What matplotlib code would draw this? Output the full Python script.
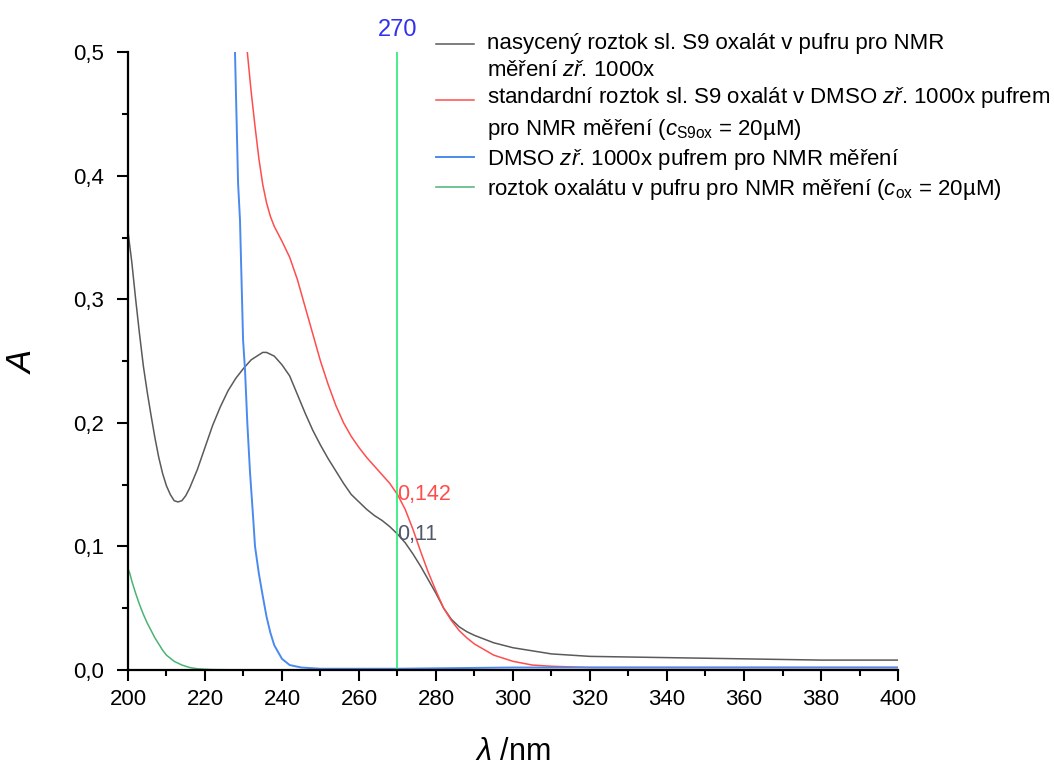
import matplotlib
matplotlib.use("Agg")
import matplotlib.pyplot as plt
from matplotlib.ticker import MultipleLocator, FuncFormatter
from matplotlib.legend_handler import HandlerLine2D

plt.rcParams['font.family'] = ['Liberation Sans', 'DejaVu Sans']
plt.rcParams['mathtext.fontset'] = 'custom'
plt.rcParams['mathtext.rm'] = 'Liberation Sans'
plt.rcParams['mathtext.it'] = 'Liberation Sans:italic'

# nasyceny roztok (gray)
wl_sat = [200, 201, 202, 203, 204, 205, 206, 207, 208, 209, 210, 211, 212, 213, 214, 215, 216, 218,
          220, 222, 224, 226, 228, 230, 232, 234, 235, 236, 238, 240, 242, 244, 246, 248, 250, 252,
          254, 256, 258, 260, 262, 264, 266, 268, 270, 272, 274, 276, 278, 280, 282, 284, 286, 288,
          290, 295, 300, 310, 320, 340, 360, 380, 400]
a_sat = [0.355, 0.330, 0.300, 0.272, 0.246, 0.225, 0.206, 0.188, 0.172, 0.159, 0.149, 0.142, 0.137,
         0.136, 0.137, 0.141, 0.147, 0.162, 0.180, 0.198, 0.213, 0.226, 0.236, 0.244, 0.251, 0.255,
         0.257, 0.257, 0.254, 0.247, 0.238, 0.223, 0.208, 0.194, 0.182, 0.171, 0.161, 0.151, 0.142,
         0.136, 0.130, 0.125, 0.121, 0.116, 0.110, 0.103, 0.094, 0.084, 0.073, 0.062, 0.050, 0.041,
         0.035, 0.031, 0.028, 0.022, 0.018, 0.013, 0.011, 0.010, 0.009, 0.008, 0.008]

# standardni roztok (red)
wl_std = [231, 232, 233, 234, 235, 236, 237, 238, 240, 242, 244, 246, 248, 250, 252, 254, 256, 258,
          260, 262, 264, 266, 268, 270, 272, 274, 276, 278, 280, 282, 284, 286, 288, 290, 295, 300,
          305, 310, 320, 350, 400]
a_std = [0.500, 0.468, 0.440, 0.414, 0.393, 0.378, 0.367, 0.359, 0.347, 0.334, 0.316, 0.294, 0.272,
         0.250, 0.231, 0.214, 0.200, 0.189, 0.180, 0.172, 0.165, 0.158, 0.151, 0.142, 0.130, 0.114,
         0.096, 0.079, 0.064, 0.050, 0.040, 0.032, 0.026, 0.021, 0.012, 0.007, 0.004, 0.003, 0.002,
         0.002, 0.002]

# DMSO (blue)
wl_dmso = [227.8, 228.6, 229.1, 229.9, 230.4, 231, 231.7, 232.5, 233, 234, 235, 236, 237, 238, 240,
           242, 245, 250, 270, 300, 350, 400]
a_dmso = [0.500, 0.394, 0.364, 0.267, 0.243, 0.200, 0.160, 0.124, 0.100, 0.078, 0.060, 0.043, 0.030,
          0.020, 0.009, 0.004, 0.002, 0.001, 0.001, 0.002, 0.002, 0.002]

# oxalat (green)
wl_ox = [200, 200.5, 201, 202, 203, 204, 205, 206, 207, 208, 209, 210, 212, 214, 216, 218, 220, 222,
         225, 230, 240, 260, 300, 400]
a_ox = [0.082, 0.078, 0.072, 0.062, 0.053, 0.045, 0.038, 0.032, 0.026, 0.021, 0.016, 0.012, 0.007,
        0.004, 0.002, 0.001, 0.0006, 0.0003, 0.0002, 0.0001, 0.0, 0.0, 0.0, 0.0]

labels = [
    "nasycený roztok sl. S9 oxalát v pufru pro NMR\nměření $zř$. 1000x",
    "standardní roztok sl. S9 oxalát v DMSO $zř$. 1000x pufrem\npro NMR měření ($c_{\\mathrm{S9ox}}$ = 20µM)",
    "DMSO $zř$. 1000x pufrem pro NMR měření",
    "roztok oxalátu v pufru pro NMR měření ($c_{\\mathrm{ox}}$ = 20µM)",
]
colors = ['#5a5a5a', '#ff4d4d', '#4a8aee', '#49b474']

mark_wl = 270
mark_vals = [0.110, 0.142]


class FirstLineHandler(HandlerLine2D):
    # put the legend line next to the first text line of a two-line label
    def __init__(self, shift, **kw):
        super().__init__(**kw)
        self.shift = shift

    def create_artists(self, legend, orig_handle, xdescent, ydescent, width, height, fontsize, trans):
        artists = super().create_artists(legend, orig_handle, xdescent, ydescent, width, height,
                                         fontsize, trans)
        for a in artists:
            a.set_ydata([y + self.shift for y in a.get_ydata()])
        return artists


fig = plt.figure(figsize=(10.54, 7.67), dpi=100)
ax = fig.add_axes([0.1214, 0.1265, 0.7306, 0.8055])

l1, = ax.plot(wl_sat, a_sat, color=colors[0], lw=1.1, label=labels[0])
l2, = ax.plot(wl_std, a_std, color=colors[1], lw=1.1, label=labels[1])
ax.plot(wl_dmso, a_dmso, color=colors[2], lw=1.4, label=labels[2])
ax.plot(wl_ox, a_ox, color=colors[3], lw=1.1, label=labels[3])

ax.axvline(mark_wl, color='#22ee77', lw=1.2)
ax.text(mark_wl, 0.509, str(mark_wl), color='#3030f0', fontsize=17, ha='center', va='bottom')
ax.text(mark_wl, mark_vals[1], ('%g' % mark_vals[1]).replace('.', ','), color='#ff4d4d',
        fontsize=15.5, ha='left', va='center')
ax.text(mark_wl, mark_vals[0], ('%g' % mark_vals[0]).replace('.', ','), color='#50586a',
        fontsize=15.5, ha='left', va='center')

ax.set_xlim(200, 400)
ax.set_ylim(0, 0.5)
ax.xaxis.set_major_locator(MultipleLocator(20))
ax.xaxis.set_minor_locator(MultipleLocator(10))
ax.yaxis.set_major_locator(MultipleLocator(0.1))
ax.yaxis.set_minor_locator(MultipleLocator(0.05))
ax.yaxis.set_major_formatter(FuncFormatter(lambda v, p: ('%.1f' % v).replace('.', ',')))
ax.tick_params(which='major', direction='out', length=8, width=1.5, labelsize=16)
ax.tick_params(which='minor', direction='out', length=4.5, width=1.5)
ax.tick_params(axis='x', which='major', pad=6)
ax.tick_params(axis='y', which='major', pad=9.5)
for side in ['top', 'right']:
    ax.spines[side].set_visible(False)
for side in ['left', 'bottom']:
    ax.spines[side].set_linewidth(1.6)

ax.set_xlabel('$\\lambda$ /nm', fontsize=22, labelpad=19)
ax.set_ylabel('$A$', fontsize=25, labelpad=25)

leg = fig.legend(loc='upper left', bbox_to_anchor=(436 / 1054, 1 - 33 / 767), frameon=False,
                 fontsize=16, handlelength=1.7, handletextpad=0.6, labelspacing=0.22,
                 borderaxespad=0, borderpad=0,
                 handler_map={l1: FirstLineHandler(9.7), l2: FirstLineHandler(9.7)})
for t in leg.get_texts():
    t.set_linespacing(1.35)

fig.savefig('out.png', dpi=100)
